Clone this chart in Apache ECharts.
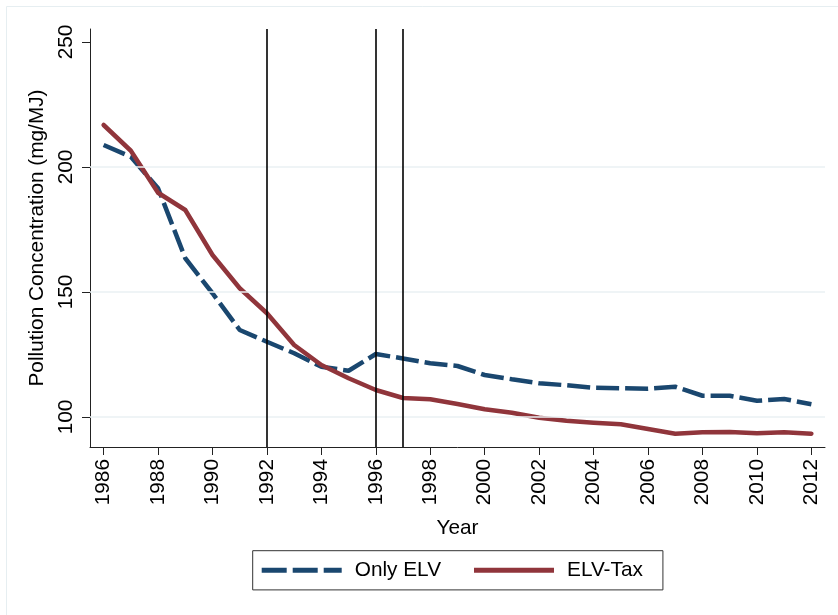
<!DOCTYPE html>
<html>
<head>
<meta charset="utf-8">
<script src="https://cdn.jsdelivr.net/npm/echarts@6/dist/echarts.min.js"></script>
<style>
html,body{margin:0;padding:0;background:#fff;}
#chart{width:838px;height:615px;}
</style>
</head>
<body>
<div id="chart"></div>
<script>
const years = [1986,1987,1988,1989,1990,1991,1992,1993,1994,1995,1996,1997,1998,1999,2000,2001,2002,2003,2004,2005,2006,2007,2008,2009,2010,2011,2012];
const onlyELV = [208.8,204.1,191.5,163.5,149.5,134.8,130.1,125.5,120.1,118.5,125.2,123.4,121.5,120.4,116.8,115.1,113.5,112.7,111.7,111.5,111.3,112.1,108.5,108.5,106.5,107.2,105.1];
const elvTax = [216.8,206.5,189.7,182.8,164.8,151.5,141.5,128.8,120.8,115.5,110.8,107.6,107.1,105.2,103.1,101.7,99.7,98.5,97.7,97.1,95.2,93.3,93.9,94.0,93.5,93.9,93.3];
const xTicks = [1986,1988,1990,1992,1994,1996,1998,2000,2002,2004,2006,2008,2010,2012];
const yTicks = [100,150,200,250];
const gridValues = [100,150,200];
const eventYears = [1992,1996,1997];
const seriesNames = ['Only ELV','ELV-Tax'];

const FONT = '"Liberation Sans", Arial, Helvetica, sans-serif';
const FS = 20.8;

const chart = echarts.init(document.getElementById('chart'), null, {renderer:'canvas'});
const pairs = arr => years.map((y,i)=>[y,arr[i]]);

const dashIcon = 'path://M0,0H25V5H0Z M31,0H56V5H31Z M62,0H80V5H62Z';
const solidIcon = 'path://M0,0H80V5H0Z';

chart.setOption({
  animation:false,
  backgroundColor:'#ffffff',
  textStyle:{fontFamily:FONT},
  graphic:[{
    type:'rect', silent:true, z:-10,
    shape:{x:6.5,y:6.5,width:900,height:700},
    style:{fill:null, stroke:'#e6eef1', lineWidth:1}
  }],
  grid:{left:90, right:13, top:29, bottom:168, containLabel:false},
  xAxis:{
    type:'value', min:1985.5, max:2012.5,
    name:'Year', nameLocation:'middle', nameGap:71,
    nameTextStyle:{fontSize:FS, color:'#000', fontFamily:FONT},
    axisLine:{show:true, onZero:false, lineStyle:{color:'#222', width:1}},
    axisTick:{show:true, length:8, customValues:xTicks, lineStyle:{color:'#222', width:1}},
    axisLabel:{rotate:90, margin:12, fontSize:FS, color:'#000', fontFamily:FONT, customValues:xTicks, formatter: v => String(v)},
    splitLine:{show:false}
  },
  yAxis:{
    type:'value', min:88, max:255.2,
    name:'Pollution Concentration (mg/MJ)', nameLocation:'middle', nameGap:31,
    nameTextStyle:{fontSize:FS, color:'#000', fontFamily:FONT},
    axisLine:{show:true, onZero:false, lineStyle:{color:'#222', width:1}},
    axisTick:{show:true, length:8, customValues:yTicks, lineStyle:{color:'#222', width:1}},
    axisLabel:{rotate:90, margin:13, fontSize:FS, color:'#000', fontFamily:FONT, customValues:yTicks, formatter: v => String(v)},
    splitLine:{show:false}
  },
  legend:{
    data:[{name:seriesNames[0], icon:dashIcon},{name:seriesNames[1], icon:solidIcon}],
    left:252.7, top:550.7,
    orient:'horizontal',
    itemWidth:80, itemHeight:5, itemGap:33,
    padding:[8.6,20,8.6,9],
    borderColor:'#333', borderWidth:1,
    itemStyle:{borderWidth:0},
    textStyle:{fontSize:FS, color:'#000', fontFamily:FONT, padding:[0,0,0,8], lineHeight:22},
    selectedMode:false
  },
  series:[
    {
      name:'refs', type:'line', z:1, silent:true,
      data:pairs(onlyELV), symbol:'none',
      lineStyle:{opacity:0}, tooltip:{show:false},
      markLine:{
        silent:true, symbol:['none','none'], label:{show:false},
        data:[
          ...gridValues.map(v=>({yAxis:v, lineStyle:{color:'#eaf1f3', width:1.5, type:'solid'}})),
          ...eventYears.map(v=>({xAxis:v, lineStyle:{color:'#000', width:1.6, type:'solid'}}))
        ]
      }
    },
    {
      name:'Only ELV', type:'line', z:3,
      data:pairs(onlyELV), symbol:'none', smooth:false,
      color:'#1a476f',
      itemStyle:{color:'#1a476f'},
      lineStyle:{color:'#1a476f', width:4.5, type:[23,6], cap:'butt'}
    },
    {
      name:'ELV-Tax', type:'line', z:4,
      data:pairs(elvTax), symbol:'none', smooth:false,
      color:'#90353b',
      itemStyle:{color:'#90353b'},
      lineStyle:{color:'#90353b', width:4.5, type:'solid', join:'round', cap:'round'}
    }
  ]
});
</script>
</body>
</html>
